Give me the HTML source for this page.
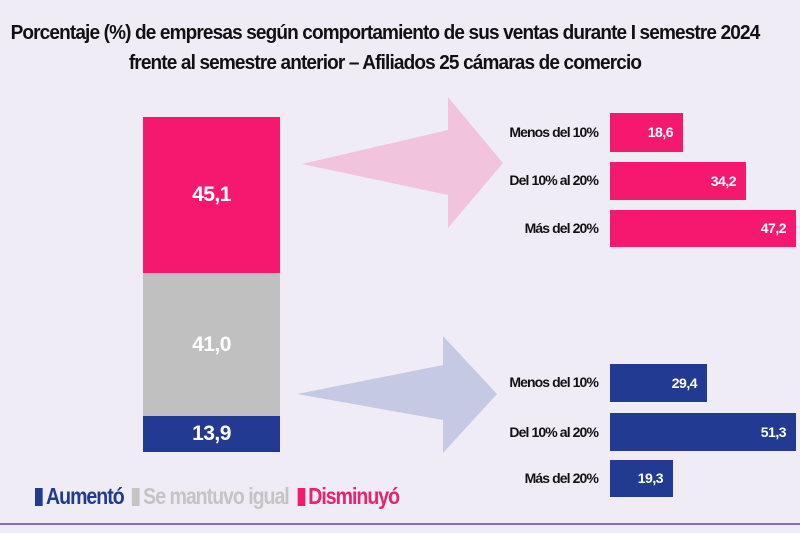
<!DOCTYPE html>
<html><head><meta charset="utf-8"><style>
body{margin:0;width:800px;height:533px;background:#efecf5;overflow:hidden;font-family:"Liberation Sans",sans-serif;position:relative}
.t{position:absolute;left:-15px;width:800px;text-align:center;font-weight:bold;font-size:20px;color:#111;letter-spacing:-0.9px;white-space:nowrap;transform:scaleX(0.95);transform-origin:400px 0}
.a{position:absolute;}
.lab{position:absolute;width:200px;text-align:right;font-size:14px;font-weight:bold;letter-spacing:-0.9px;color:#111}
.bar{position:absolute;left:610px;color:#fff;font-weight:bold;font-size:14px;text-align:right;box-sizing:border-box;padding-right:10px;letter-spacing:-0.5px}
.pk{background:#f5186f}.bl{background:#233a92}
.seg{position:absolute;left:143px;width:137px;color:#fff;font-weight:bold;font-size:21px;display:flex;align-items:center;justify-content:center;letter-spacing:-0.5px}
.lg{position:absolute;top:483px;left:35px;display:flex;gap:10px;font-weight:bold;font-size:23px;letter-spacing:-1.2px;white-space:nowrap;transform:scaleX(0.85);transform-origin:0 0}
.lg span{display:inline-block;width:9px;height:18px;margin-right:4px;vertical-align:-2px}
</style></head><body>
<div class="t" style="top:22px;">Porcentaje (%) de empresas según comportamiento de sus ventas durante I semestre 2024</div>
<div class="t" style="top:52px;">frente al semestre anterior – Afiliados 25 cámaras de comercio</div>
<svg class="a" style="left:0;top:0" width="800" height="533">
<polygon points="302,164 448,130 448,97 503,163 448,228 448,195" fill="#f2c4dc"/>
<polygon points="297,394 443,365 443,336 497,394 443,453 443,420" fill="#c6c9e4"/>
<line x1="0" y1="524" x2="800" y2="524" stroke="#8a6ab8" stroke-width="2"/>
</svg>
<div class="seg pk" style="top:117px;height:156px">45,1</div>
<div class="seg" style="top:273px;height:143px;background:#c0c0c0">41,0</div>
<div class="seg bl" style="top:416px;height:36px">13,9</div>
<div class="lab" style="left:398px;top:124px">Menos del 10%</div>
<div class="lab" style="left:398px;top:172px">Del 10% al 20%</div>
<div class="lab" style="left:398px;top:220px">Más del 20%</div>
<div class="bar pk" style="top:113px;height:39px;width:73px;line-height:39px">18,6</div>
<div class="bar pk" style="top:162px;height:38px;width:136px;line-height:38px">34,2</div>
<div class="bar pk" style="top:210px;height:37px;width:186px;line-height:37px">47,2</div>
<div class="lab" style="left:398px;top:374px">Menos del 10%</div>
<div class="lab" style="left:398px;top:424px">Del 10% al 20%</div>
<div class="lab" style="left:398px;top:470px">Más del 20%</div>
<div class="bar bl" style="top:364px;height:38px;width:97px;line-height:38px">29,4</div>
<div class="bar bl" style="top:413px;height:38px;width:186px;line-height:38px">51,3</div>
<div class="bar bl" style="top:460px;height:37px;width:63px;line-height:37px">19,3</div>
<div class="lg">
<div style="color:#233a92"><span style="background:#233a92"></span>Aumentó</div>
<div style="color:#c4c4c4"><span style="background:#c4c4c4"></span>Se mantuvo igual</div>
<div style="color:#e8226e"><span style="background:#f5186f"></span>Disminuyó</div>
</div>
</body></html>
